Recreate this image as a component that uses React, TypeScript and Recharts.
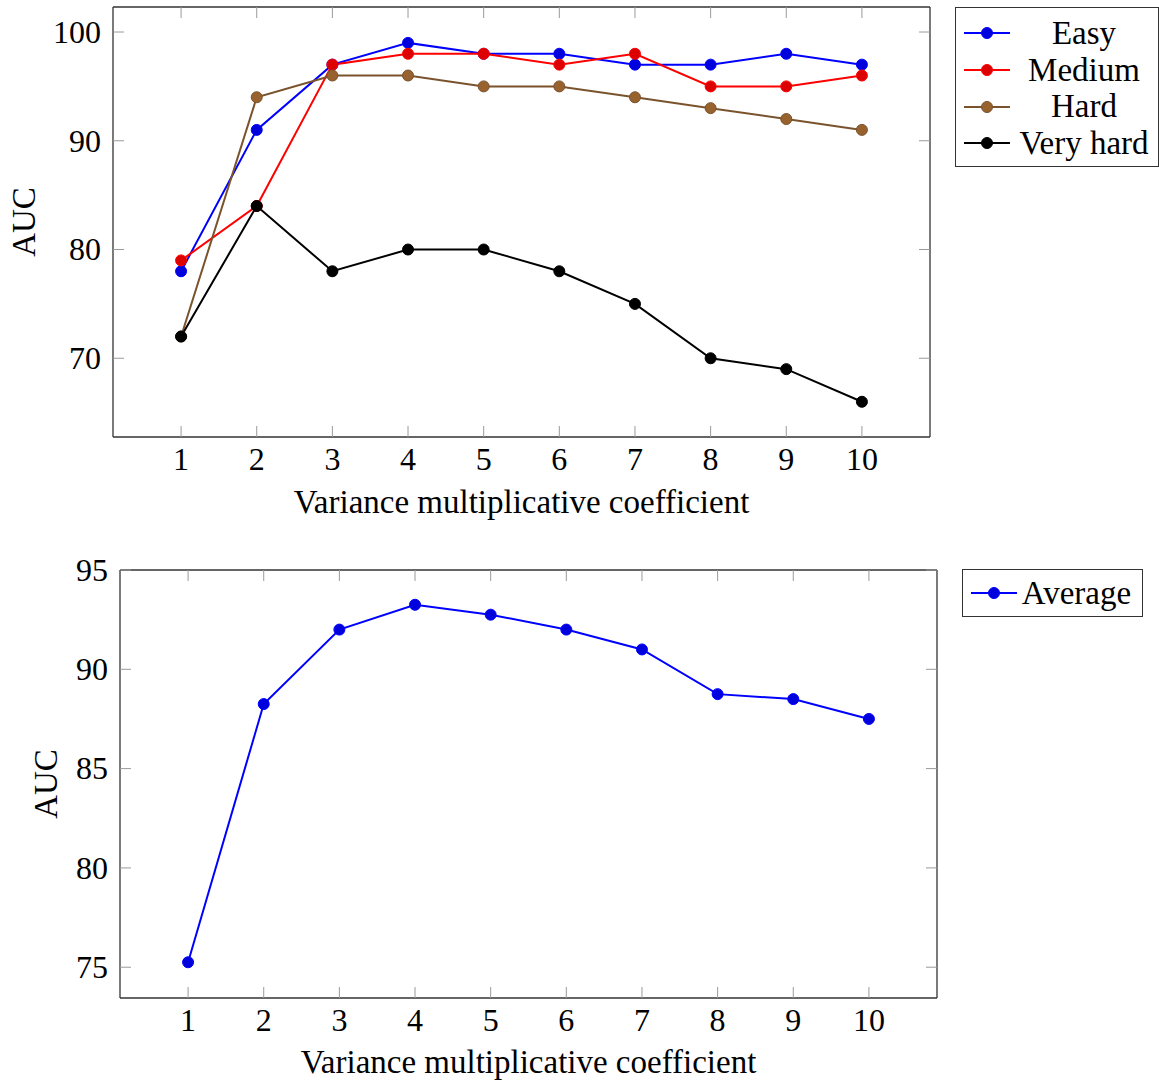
import React from 'react';
import { LineChart, Line, XAxis, YAxis, Legend } from 'recharts';

// ---------- data ----------
const coefficients = [1, 2, 3, 4, 5, 6, 7, 8, 9, 10];
const easy = [78, 91, 97, 99, 98, 98, 97, 97, 98, 97];
const medium = [79, 84, 97, 98, 98, 97, 98, 95, 95, 96];
const hard = [72, 94, 96, 96, 95, 95, 94, 93, 92, 91];
const veryHard = [72, 84, 78, 80, 80, 78, 75, 70, 69, 66];
const average = [75.25, 88.25, 92, 93.25, 92.75, 92, 91, 88.75, 88.5, 87.5];

const topYTicks = [70, 80, 90, 100];
const bottomYTicks = [75, 80, 85, 90, 95];
const xTitle = 'Variance multiplicative coefficient';
const yTitle = 'AUC';

const topSeries = [
  { key: 'easy', name: 'Easy', color: '#0000ff', fill: '#0000dd', values: easy },
  { key: 'medium', name: 'Medium', color: '#ff0000', fill: '#dd0000', values: medium },
  { key: 'hard', name: 'Hard', color: '#7a532d', fill: '#98622f', values: hard },
  { key: 'veryHard', name: 'Very hard', color: '#000000', fill: '#000000', values: veryHard },
];
const bottomSeries = [
  { key: 'average', name: 'Average', color: '#0000ff', fill: '#0000dd', values: average },
];

const buildData = (series: any[]) =>
  coefficients.map((c, i) => {
    const row: any = { x: c };
    series.forEach((s) => (row[s.key] = s.values[i]));
    return row;
  });

const topData = buildData(topSeries);
const bottomData = buildData(bottomSeries);

// ---------- style ----------
const FONT = 'Liberation Serif, DejaVu Serif';
const FS = 32;
const FS_TITLE = 33;
const TICK_LEN = 11;
const TICK_COLOR = '#9a9a9a';
const FRAME_COLOR = '#333333';
const FRAME_W = 1.3;

// ---------- ticks ----------
const LeftTick = (p: any) => (
  <g>
    <line x1={p.x} y1={p.y} x2={p.x + TICK_LEN} y2={p.y} stroke={TICK_COLOR} strokeWidth={1} />
    <text x={p.x - 12} y={p.y} dy="0.34em" textAnchor="end" style={{ fontFamily: FONT, fontSize: FS }} fill="#000">
      {p.payload.value}
    </text>
  </g>
);
const RightTick = (p: any) => (
  <line x1={p.x - TICK_LEN} y1={p.y} x2={p.x} y2={p.y} stroke={TICK_COLOR} strokeWidth={1} />
);
const BottomTick = (p: any) => (
  <g>
    <line x1={p.x} y1={p.y} x2={p.x} y2={p.y - TICK_LEN} stroke={TICK_COLOR} strokeWidth={1} />
    <text x={p.x} y={p.y + 22} dy="0.34em" textAnchor="middle" style={{ fontFamily: FONT, fontSize: FS }} fill="#000">
      {p.payload.value}
    </text>
  </g>
);
const TopTick = (p: any) => (
  <line x1={p.x} y1={p.y} x2={p.x} y2={p.y + TICK_LEN} stroke={TICK_COLOR} strokeWidth={1} />
);

const yLabel = (offsetX: number) => (props: any) => {
  const vb = props.viewBox || {};
  const cx = (vb.x || 0) + offsetX;
  const cy = (vb.y || 0) + (vb.height || 0) / 2;
  return (
    <text
      x={cx}
      y={cy}
      dy="0.33em"
      textAnchor="middle"
      transform={`rotate(-90, ${cx}, ${cy})`}
      style={{ fontFamily: FONT, fontSize: FS_TITLE }}
      fill="#000"
    >
      {yTitle}
    </text>
  );
};
const xLabel = (offsetY: number) => (props: any) => {
  const vb = props.viewBox || {};
  const cx = (vb.x || 0) + (vb.width || 0) / 2;
  const cy = (vb.y || 0) + offsetY;
  return (
    <text x={cx} y={cy} dy="0.3em" textAnchor="middle" style={{ fontFamily: FONT, fontSize: FS_TITLE }} fill="#000">
      {xTitle}
    </text>
  );
};

// ---------- legend ----------
const makeLegend = (series: any[], box: { w: number; h: number; padTop: number; rowH: number; padRight: number }) =>
  (props: any) => {
    const payload: any[] = (props && props.payload) || [];
    const items = series.filter((s) => payload.length === 0 || payload.some((it: any) => it.dataKey === s.key));
    return (
      <div
        style={{
          width: box.w,
          height: box.h,
          boxSizing: 'border-box',
          border: `${FRAME_W}px solid ${FRAME_COLOR}`,
          background: '#fff',
          paddingTop: box.padTop,
          fontFamily: FONT,
          fontSize: FS_TITLE,
          color: '#000',
        }}
      >
        {items.map((s: any) => (
          <div key={s.key} style={{ display: 'flex', alignItems: 'center', height: box.rowH }}>
            <svg width={46} height={14} style={{ marginLeft: 8, flex: 'none' }}>
              <line x1={0} y1={7} x2={46} y2={7} stroke={s.color} strokeWidth={2} />
              <circle cx={23} cy={7} r={5.5} fill={s.fill} stroke={s.color} strokeWidth={1} />
            </svg>
            <span style={{ flex: 1, textAlign: 'center', lineHeight: 1, paddingRight: box.padRight, whiteSpace: 'nowrap' }}>
              {s.name}
            </span>
          </div>
        ))}
      </div>
    );
  };

const TopLegend = makeLegend(topSeries, { w: 204, h: 160, padTop: 7, rowH: 36.7, padRight: 0 });
const BottomLegend = makeLegend(bottomSeries, { w: 181, h: 48, padTop: 0, rowH: 46, padRight: 6 });

// ---------- chart ----------
function Panel(props: {
  data: any[];
  series: any[];
  width: number;
  height: number;
  margin: any;
  yWidth: number;
  xHeight: number;
  yDomain: [number, number];
  yTicks: number[];
  yLabelX: number;
  xLabelY: number;
  legend: any;
  legendPos: { left: number; top: number };
}) {
  const p = props;
  return (
    <LineChart width={p.width} height={p.height} data={p.data} margin={p.margin} style={{ fontFamily: FONT }}>
      <XAxis
        xAxisId="b"
        dataKey="x"
        type="number"
        domain={[0.1, 10.9]}
        ticks={coefficients}
        allowDataOverflow
        height={p.xHeight}
        tickSize={0}
        tickMargin={0}
        tick={BottomTick}
        axisLine={{ stroke: FRAME_COLOR, strokeWidth: FRAME_W }}
        tickLine={false}
        interval={0}
        label={xLabel(p.xLabelY)}
      />
      <XAxis
        xAxisId="t"
        orientation="top"
        dataKey="x"
        type="number"
        domain={[0.1, 10.9]}
        ticks={coefficients}
        allowDataOverflow
        height={1}
        tickSize={0}
        tickMargin={0}
        tick={TopTick}
        axisLine={{ stroke: FRAME_COLOR, strokeWidth: FRAME_W }}
        tickLine={false}
        interval={0}
      />
      <YAxis
        yAxisId="l"
        type="number"
        domain={p.yDomain}
        ticks={p.yTicks}
        allowDataOverflow
        width={p.yWidth}
        tickSize={0}
        tickMargin={0}
        tick={LeftTick}
        axisLine={{ stroke: FRAME_COLOR, strokeWidth: FRAME_W }}
        tickLine={false}
        interval={0}
        label={yLabel(p.yLabelX)}
      />
      <YAxis
        yAxisId="r"
        orientation="right"
        type="number"
        domain={p.yDomain}
        ticks={p.yTicks}
        allowDataOverflow
        width={1}
        tickSize={0}
        tickMargin={0}
        tick={RightTick}
        axisLine={{ stroke: FRAME_COLOR, strokeWidth: FRAME_W }}
        tickLine={false}
        interval={0}
      />
      <Legend
        layout="vertical"
        align="center"
        verticalAlign="middle"
        content={p.legend}
        wrapperStyle={{ left: p.legendPos.left, top: p.legendPos.top, width: 'auto' }}
      />
      {p.series.map((s) => (
        <Line
          key={s.key}
          xAxisId="b"
          yAxisId="l"
          dataKey={s.key}
          name={s.name}
          stroke={s.color}
          strokeWidth={2}
          dot={{ r: 5.5, fill: s.fill, stroke: s.color, strokeWidth: 1, fillOpacity: 1 }}
          activeDot={false}
          isAnimationActive={false}
        />
      ))}
    </LineChart>
  );
}

export default function App() {
  return (
    <div style={{ position: 'absolute', left: 0, top: 0, width: 1159, height: 1082, background: '#fff' }}>
      <div style={{ position: 'absolute', left: 0, top: 0 }}>
        <Panel
          data={topData}
          series={topSeries}
          width={1159}
          height={530}
          margin={{ top: 6, right: 228, bottom: 0, left: 0 }}
          yWidth={113}
          xHeight={93}
          yDomain={[62.76, 102.3]}
          yTicks={topYTicks}
          yLabelX={24}
          xLabelY={66}
          legend={TopLegend}
          legendPos={{ left: 955, top: 7 }}
        />
      </div>
      <div style={{ position: 'absolute', left: 0, top: 540 }}>
        <Panel
          data={bottomData}
          series={bottomSeries}
          width={1159}
          height={542}
          margin={{ top: 29, right: 221, bottom: 0, left: 0 }}
          yWidth={120}
          xHeight={84}
          yDomain={[73.45, 95]}
          yTicks={bottomYTicks}
          yLabelX={46}
          xLabelY={65}
          legend={BottomLegend}
          legendPos={{ left: 962, top: 29 }}
        />
      </div>
    </div>
  );
}
